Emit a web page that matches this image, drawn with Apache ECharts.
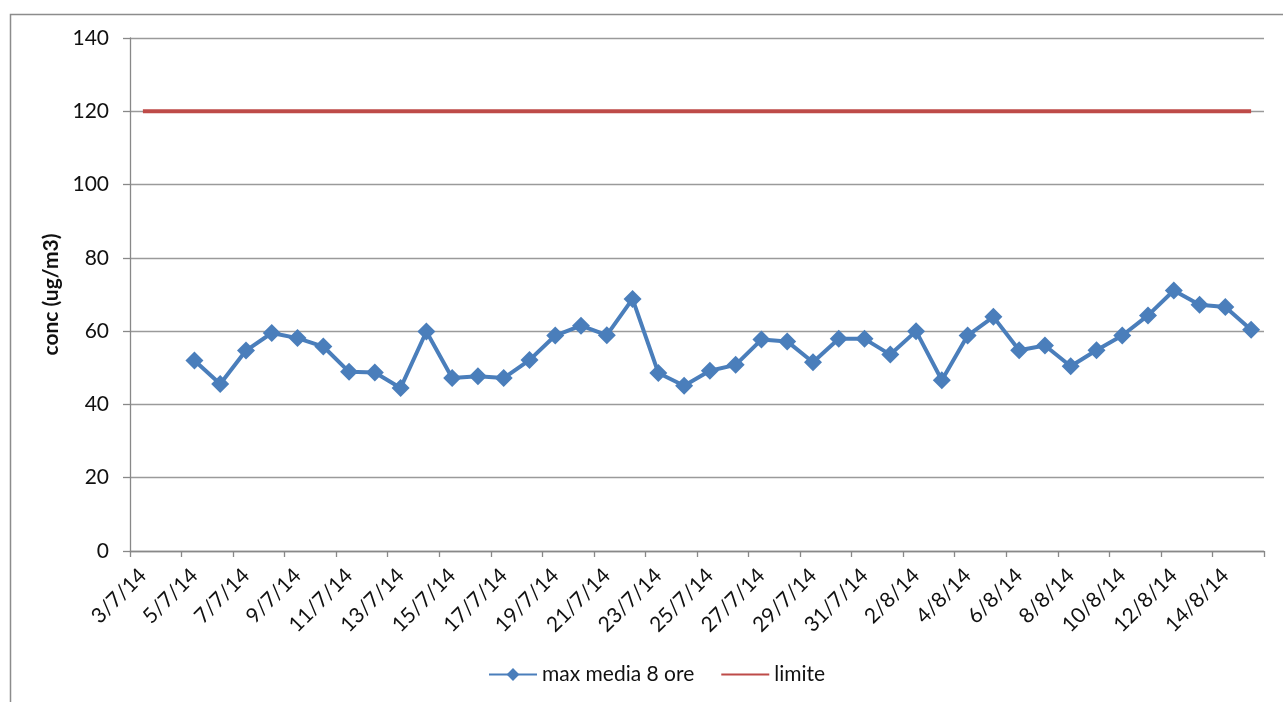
<!DOCTYPE html>
<html>
<head>
<meta charset="utf-8">
<script src="https://cdn.jsdelivr.net/npm/echarts@6/dist/echarts.min.js"></script>
<style>
  html, body { margin: 0; padding: 0; background: #fff; }
  #chart { width: 1283px; height: 702px; }
</style>
</head>
<body>
<div id="chart"></div>
<script>
// Giorni di campionamento (asse delle categorie)
const dates = [
  '3/7/14', '4/7/14', '5/7/14', '6/7/14', '7/7/14', '8/7/14', '9/7/14', '10/7/14',
  '11/7/14', '12/7/14', '13/7/14', '14/7/14', '15/7/14', '16/7/14', '17/7/14', '18/7/14',
  '19/7/14', '20/7/14', '21/7/14', '22/7/14', '23/7/14', '24/7/14', '25/7/14', '26/7/14',
  '27/7/14', '28/7/14', '29/7/14', '30/7/14', '31/7/14', '1/8/14', '2/8/14', '3/8/14',
  '4/8/14', '5/8/14', '6/8/14', '7/8/14', '8/8/14', '9/8/14', '10/8/14', '11/8/14',
  '12/8/14', '13/8/14', '14/8/14', '15/8/14'
];

// Massimo della media mobile su 8 ore (ug/m3); nessun dato il 3 e 4 luglio
const maxMedia8Ore = [
  null, null,
  52.0, 45.6, 54.7, 59.5, 58.1, 55.8, 48.9, 48.7, 44.5, 59.9,
  47.2, 47.7, 47.2, 52.1, 58.8, 61.5, 58.9, 68.8, 48.6, 45.1,
  49.2, 50.8, 57.7, 57.2, 51.5, 57.9, 57.9, 53.6, 60.0, 46.6,
  58.8, 63.9, 54.8, 56.1, 50.4, 54.8, 58.8, 64.3, 71.1, 67.2,
  66.6, 60.4
];

// Valore limite
const limite = [
  120, 120, 120, 120, 120, 120, 120, 120, 120, 120, 120,
  120, 120, 120, 120, 120, 120, 120, 120, 120, 120, 120,
  120, 120, 120, 120, 120, 120, 120, 120, 120, 120, 120,
  120, 120, 120, 120, 120, 120, 120, 120, 120, 120, 120
];

// Etichette dell'asse verticale
const yTicks = [0, 20, 40, 60, 80, 100, 120, 140];

const FONT = 'Lato';
const FS = 21;
const chart = echarts.init(document.getElementById('chart'), null, { renderer: 'canvas' });

chart.setOption({
  backgroundColor: '#ffffff',
  animation: false,
  textStyle: { fontFamily: FONT },
  graphic: [{
    type: 'rect',
    left: 8, top: 12,
    shape: { width: 1300, height: 720 },
    style: { fill: 'none', stroke: '#8c8c8c', lineWidth: 1.5 },
    silent: true,
    z: 0
  }],
  grid: { left: 130, right: 19, top: 38, bottom: 151 },
  legend: {
    bottom: 12,
    left: 483,
    itemWidth: 48,
    itemHeight: 16,
    itemGap: 26,
    textStyle: { fontFamily: FONT, fontSize: FS, color: '#111' },
    data: [
      { name: 'max media 8 ore' },
      { name: 'limite', itemStyle: { opacity: 0 } }
    ]
  },
  xAxis: {
    type: 'category',
    data: dates,
    boundaryGap: true,
    axisLine: { lineStyle: { color: '#888', width: 1.3 } },
    axisTick: { show: true, interval: 1, length: 6, lineStyle: { color: '#888', width: 1.3 } },
    axisLabel: {
      interval: 1,
      rotate: 45,
      margin: 21,
      fontFamily: FONT,
      fontSize: FS,
      color: '#111'
    },
    splitLine: { show: false }
  },
  yAxis: {
    type: 'value',
    min: yTicks[0],
    max: yTicks[yTicks.length - 1],
    interval: 20,
    name: 'conc (ug/m3)',
    nameLocation: 'middle',
    nameGap: 64,
    nameRotate: 90,
    nameTextStyle: { fontFamily: FONT, fontSize: FS, fontWeight: 'bold', color: '#111' },
    axisLine: { show: true, lineStyle: { color: '#888', width: 1.3 } },
    axisTick: { show: true, length: 7, lineStyle: { color: '#888', width: 1.3 } },
    axisLabel: { margin: 21, fontFamily: FONT, fontSize: FS, color: '#111' },
    splitLine: { show: true, lineStyle: { color: '#9a9a9a', width: 1.3 } }
  },
  series: [
    {
      name: 'max media 8 ore',
      type: 'line',
      data: maxMedia8Ore,
      symbol: 'diamond',
      symbolSize: 18,
      showSymbol: true,
      showAllSymbol: true,
      lineStyle: { color: '#4a7ebb', width: 4 },
      itemStyle: { color: '#4a7ebb', borderWidth: 0 },
      z: 3
    },
    {
      name: 'limite',
      type: 'line',
      data: limite,
      symbol: 'none',
      lineStyle: { color: '#be4b48', width: 4 },
      itemStyle: { color: '#be4b48' },
      z: 2
    }
  ]
});
</script>
</body>
</html>
